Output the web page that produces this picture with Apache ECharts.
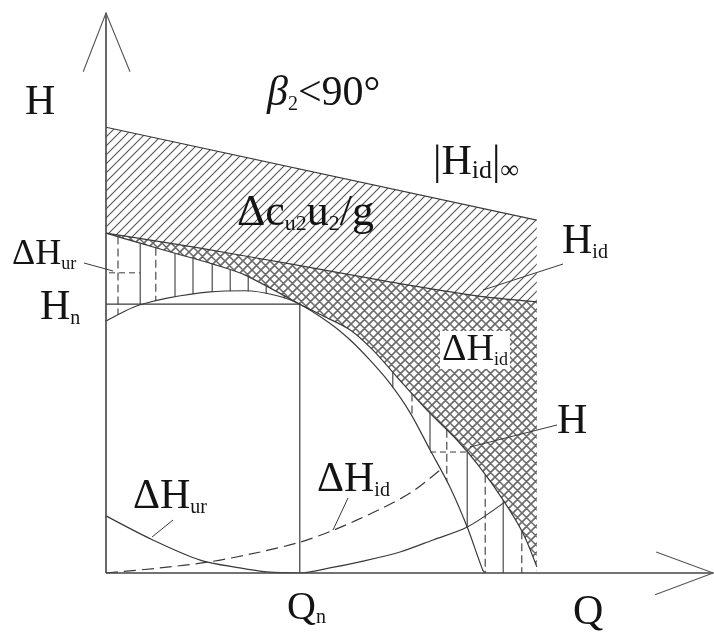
<!DOCTYPE html>
<html>
<head>
<meta charset="utf-8">
<script src="https://cdn.jsdelivr.net/npm/echarts@6/dist/echarts.min.js"></script>
<style>
  html, body { margin: 0; padding: 0; background: #ffffff; }
  #chart { width: 714px; height: 632px; }
</style>
</head>
<body>
<div id="chart"></div>
<script>
// Pump head–capacity diagram for a backward-curved impeller (beta2 < 90 deg).
// Q and H are in relative units: both axes run 0..100.

// design point
const designQ = 32.3;   // Qn
const designH = 48.0;   // Hn

// theoretical head, infinite number of blades |Hid|inf
const headInfinite = [[0, 79.6], [71.8, 63.0]];

// theoretical head, finite number of blades Hid
const headIdeal = [[0, 60.7], [15.7, 58.0], [30.7, 55.2], [47.3, 52.0], [61.8, 49.5], [71.8, 48.4]];

// Hid minus friction losses (lower edge of the cross-hatched band)
const headAfterFriction = [
  [0, 60.7], [5.7, 58.9], [11.5, 57.1], [17.7, 55.2], [23.2, 53.2], [32.3, 48.0],
  [36.2, 45.9], [40.7, 43.4], [44.5, 39.8], [48.5, 35.0], [53.5, 29.1], [58.5, 23.75],
  [62.3, 18.9], [66.2, 13.0], [69.5, 7.1], [71.8, 1.1]
];

// actual head H
const headActual = [
  [0, 45.0], [3.2, 46.8], [5.7, 47.9], [10.2, 49.1], [17.3, 50.2], [23.2, 50.4],
  [28.2, 49.6], [32.3, 48.0], [37.3, 44.6], [40.7, 41.6], [44.0, 38.0], [47.3, 33.9],
  [50.7, 28.6], [54.0, 22.0], [57.3, 15.4], [60.2, 8.2], [62.8, 0.5], [63.2, 0]
];

// shock losses dHur (zero at Qn)
const shockLoss = [
  [0, 10.2], [7.8, 5.9], [15.7, 2.3], [22.3, 0.9], [26.8, 0.2], [32.3, 0],
  [37.3, 0.9], [42.3, 2.0], [49.0, 3.75], [54.5, 5.9], [60.2, 8.2], [66.5, 12.7]
];

// friction losses dHid
const frictionLoss = [
  [0, 0], [9, 0.9], [17.3, 2.0], [25.7, 3.75], [32.3, 5.5], [37.8, 7.6],
  [45.7, 11.4], [51, 14.5], [55.8, 18.5]
];

// vertical hatching of the shock-loss band: [Q, dashed?]
const shockHatchQ = [
  [2.0, 1], [5.7, 0], [8.3, 1], [11.5, 0], [14.5, 0], [17.7, 0], [20.7, 0], [23.7, 0],
  [26.7, 0], [29.7, 0], [47.8, 0], [51.0, 1], [54.0, 0], [56.8, 1], [60.2, 0],
  [63.2, 1], [66.2, 0], [69.3, 1]
];
// short horizontal ticks inside that band: [Qstart, Qend, H]
const shockHatchBars = [[0.5, 5.7, 53.6], [54.0, 60.2, 21.6]];

const serif = '"Liberation Serif", "DejaVu Serif", serif';
const ink = '#141414';
const lineInk = '#3a3a3a';

function hatchTile(size, cross, color, width) {
  const c = document.createElement('canvas');
  c.width = size; c.height = size;
  const g = c.getContext('2d');
  g.strokeStyle = color;
  g.lineWidth = width;
  g.beginPath();
  g.moveTo(-1, size + 1); g.lineTo(size + 1, -1);
  g.moveTo(-1, 1); g.lineTo(1, -1);
  g.moveTo(size - 1, size + 1); g.lineTo(size + 1, size - 1);
  if (cross) {
    g.moveTo(-1, -1); g.lineTo(size + 1, size + 1);
    g.moveTo(size - 1, -1); g.lineTo(size + 1, 1);
    g.moveTo(-1, size - 1); g.lineTo(1, size + 1);
  }
  g.stroke();
  return c;
}
const slipPattern = { image: hatchTile(9, false, '#555555', 1.1), repeat: 'repeat' };
const frictionPattern = { image: hatchTile(9, true, '#6a6a6a', 1.5), repeat: 'repeat' };

function valueAt(curve, q) {
  if (q < curve[0][0] || q > curve[curve.length - 1][0]) return null;
  for (let i = 1; i < curve.length; i++) {
    const a = curve[i - 1], b = curve[i];
    if (q <= b[0]) return a[1] + (b[1] - a[1]) * (q - a[0]) / (b[0] - a[0]);
  }
  return curve[curve.length - 1][1];
}

function areaSeries(data, fill, smooth) {
  return {
    type: 'line', data, smooth, symbol: 'none', silent: true, z: 1,
    lineStyle: { width: 0, opacity: 0 },
    areaStyle: { color: fill, opacity: 1 }
  };
}
function curveSeries(data, smooth, dashed) {
  return {
    type: 'line', data, smooth, symbol: 'none', silent: true, z: 3,
    lineStyle: { color: lineInk, width: 1.2, type: dashed ? [12, 6] : 'solid' }
  };
}

function text(x, y, str, size, subSize, extraStyle) {
  return {
    type: 'text', x, y, z: 20,
    style: Object.assign({
      text: str, fill: ink, fontFamily: serif, fontSize: size,
      align: 'left', verticalAlign: 'middle',
      rich: {
        s: { fontSize: subSize, fontFamily: serif, fill: ink, verticalAlign: 'bottom', lineHeight: subSize },
        i: { fontSize: size, fontFamily: serif, fill: ink, fontStyle: 'italic' }
      }
    }, extraStyle || {})
  };
}
function leader(x1, y1, x2, y2) {
  return { type: 'line', z: 20, shape: { x1, y1, x2, y2 }, style: { stroke: lineInk, lineWidth: 1 } };
}

const chart = echarts.init(document.getElementById('chart'), null, { renderer: 'canvas' });

chart.setOption({
  animation: false,
  backgroundColor: '#ffffff',
  grid: { left: 106, top: 13, width: 600, height: 560 },
  xAxis: { type: 'value', min: 0, max: 100, show: false },
  yAxis: { type: 'value', min: 0, max: 100, show: false },
  series: [
    // slip band between |Hid|inf and Hid
    areaSeries(headInfinite, slipPattern, false),
    // friction band between Hid and Hid - dHid
    areaSeries(headIdeal, frictionPattern, 0.2),
    // everything below Hid - dHid stays blank
    areaSeries(headAfterFriction, '#ffffff', 0.3),
    curveSeries(headInfinite, false, false),
    curveSeries(headIdeal, 0.2, false),
    curveSeries(headAfterFriction, 0.3, false),
    curveSeries(headActual, 0.3, false),
    curveSeries(shockLoss, 0.3, false),
    curveSeries(frictionLoss, 0.3, true),
    // design point guides Hn and Qn
    {
      type: 'line', symbol: 'none', silent: true, z: 3,
      data: [[0, designH], [designQ, designH], [designQ, 0]],
      lineStyle: { color: lineInk, width: 1.2 }
    },
    // hatching of the shock-loss band
    {
      type: 'custom', silent: true, z: 2,
      data: shockHatchQ,
      renderItem(params, api) {
        const q = api.value(0);
        const top = valueAt(headAfterFriction, q);
        const low = valueAt(headActual, q);
        const bottom = low === null ? 0 : low;
        const p1 = api.coord([q, top]);
        const p2 = api.coord([q, bottom]);
        return {
          type: 'line',
          shape: { x1: p1[0], y1: p1[1], x2: p2[0], y2: p2[1] },
          style: { stroke: lineInk, lineWidth: 1.1, lineDash: api.value(1) ? [8, 4] : null }
        };
      }
    },
    {
      type: 'custom', silent: true, z: 2,
      data: shockHatchBars,
      renderItem(params, api) {
        const p1 = api.coord([api.value(0), api.value(2)]);
        const p2 = api.coord([api.value(1), api.value(2)]);
        return {
          type: 'line',
          shape: { x1: p1[0], y1: p1[1], x2: p2[0], y2: p2[1] },
          style: { stroke: lineInk, lineWidth: 1, lineDash: [6, 4] }
        };
      }
    },
    // axes with open arrow heads
    {
      type: 'custom', silent: true, z: 5, clip: false,
      data: [0],
      renderItem(params, api) {
        const c = p => api.coord(p);
        const o = c([0, 0]);
        const yTip = c([0, 100]), yL = c([-3.8, 89.5]), yR = c([4.0, 89.5]);
        const xTip = c([101.2, 0]), xU = c([91.7, 3.75]), xD = c([91.5, -3.9]);
        const st = { stroke: '#444444', lineWidth: 1.6, fill: null };
        return {
          type: 'group',
          children: [
            { type: 'line', shape: { x1: o[0], y1: o[1], x2: yTip[0], y2: yTip[1] }, style: st },
            { type: 'line', shape: { x1: o[0], y1: o[1], x2: xTip[0], y2: xTip[1] }, style: st },
            { type: 'polyline', shape: { points: [yL, yTip, yR] }, style: { stroke: '#555555', lineWidth: 1.1, fill: null } },
            { type: 'polyline', shape: { points: [xU, xTip, xD] }, style: { stroke: '#555555', lineWidth: 1.1, fill: null } }
          ]
        };
      }
    }
  ],
  graphic: [
    text(25, 103, 'H', 42, 20),
    text(267, 94, '{i|β}{s|2}<90°', 42, 20),
    text(433, 163, '|H{s|id}|{s|∞}', 42, 26),
    text(237, 213, 'Δc{s|u2}u{s|2}/g', 44, 22),
    text(562, 242, 'H{s|id}', 42, 20),
    text(12, 255, 'ΔH{s|ur}', 36, 18),
    text(40, 308, 'H{s|n}', 42, 20),
    text(440, 350, 'ΔH{s|id}', 38, 18, { backgroundColor: '#ffffff', padding: [0, 2, 0, 2] }),
    text(557, 422, 'H', 42, 20),
    text(133, 497, 'ΔH{s|ur}', 42, 20),
    text(317, 480, 'ΔH{s|id}', 42, 20),
    text(287, 608, 'Q{s|n}', 40, 20),
    text(573, 613, 'Q', 42, 20),
    leader(84, 263, 113, 271),
    leader(563, 264, 483, 290),
    leader(557, 425, 470, 447),
    leader(173, 520, 152, 537),
    leader(348, 498, 333, 530)
  ]
});
</script>
</body>
</html>
